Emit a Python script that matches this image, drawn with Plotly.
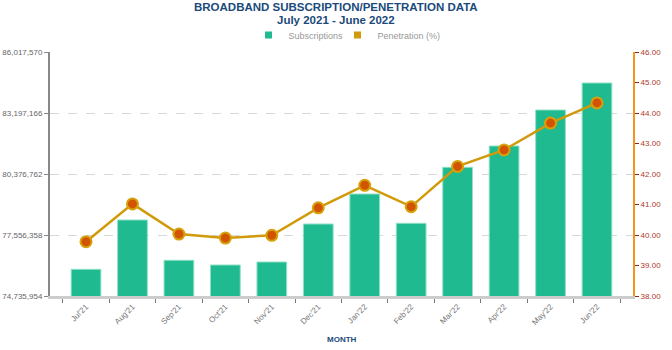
import plotly.graph_objects as go

months = ["Jul'21", "Aug'21", "Sep'21", "Oct'21", "Nov'21", "Dec'21",
          "Jan'22", "Feb'22", "Mar'22", "Apr'22", "May'22", "Jun'22"]
subscriptions = [75970000, 78250000, 76387000, 76169000, 76308000, 78065000,
                 79452000, 78097000, 80686000, 81671000, 83336000, 84584000]
penetration = [39.78, 41.02, 40.03, 39.90, 39.99, 40.89,
               41.63, 40.93, 42.25, 42.79, 43.67, 44.33]
left_ticks = [74735954, 77556358, 80376762, 83197166, 86017570]
right_ticks = [38, 39, 40, 41, 42, 43, 44, 45, 46]

FONT = "Liberation Sans, Arial, sans-serif"
TITLE_COLOR = "#1b4a7a"
BAR_COLOR = "#1fba8f"
LINE_COLOR = "#d09a0a"

L, R, T, B = 50, 39, 52, 54
PW = 672 - L - R
PH = 350 - T - B


def px(xp):
    return (xp - L) / PW


def py(yp):
    return (350 - B - yp) / PH


fig = go.Figure()
fig.add_trace(go.Bar(
    x=months, y=subscriptions, name="Subscriptions", showlegend=False,
    marker=dict(color=BAR_COLOR, line=dict(color="#8fe0c6", width=1)),
    width=0.64, yaxis="y",
))
fig.add_trace(go.Scatter(
    x=months, y=penetration, name="Penetration (%)", yaxis="y2", showlegend=False,
    mode="lines+markers",
    line=dict(color=LINE_COLOR, width=2.5),
    marker=dict(color="#d35400", size=11, line=dict(color="#d6a20c", width=2), symbol="circle"),
))
# legend-only entries (square swatches like the reference legend)
fig.add_trace(go.Scatter(x=[None], y=[None], name="Subscriptions", mode="markers",
                         marker=dict(symbol="square", color=BAR_COLOR, size=7)))
fig.add_trace(go.Scatter(x=[None], y=[None], name="Penetration (%)", mode="markers",
                         marker=dict(symbol="square", color=LINE_COLOR, size=7)))
fig.add_trace(go.Scatter(x=[None], y=[None], name=" ", mode="markers",
                         marker=dict(symbol="square", color="rgba(0,0,0,0)", size=1)))

fig.update_layout(
    width=672, height=350,
    margin=dict(l=L, r=R, t=T, b=B, autoexpand=False),
    plot_bgcolor="white", paper_bgcolor="white",
    font=dict(family=FONT, size=9, color="#666"),
    showlegend=True,
    legend=dict(orientation="h", x=px(248.5), xanchor="left", y=py(35), yanchor="middle",
                font=dict(size=9, color="#999"), entrywidth=44, traceorder="normal",
                itemclick=False, bgcolor="rgba(0,0,0,0)"),
    xaxis=dict(
        type="category", tickangle=-45, tickson="boundaries",
        ticks="outside", ticklen=4, tickcolor="#777",
        showline=True, linecolor="#cccccc", linewidth=3,
        tickfont=dict(size=8, color="#777"),
        showgrid=False, automargin=False,
    ),
    yaxis=dict(
        range=[left_ticks[0], left_ticks[-1]],
        tickvals=left_ticks, tickformat=",d",
        ticks="outside", ticklen=4, tickcolor="#888",
        showline=True, linecolor="#888", linewidth=2,
        showgrid=True, gridcolor="#d8d8d8", griddash="dash", gridwidth=1,
        zeroline=False, automargin=False,
        tickfont=dict(size=8, color="#666"),
    ),
    yaxis2=dict(
        range=[38, 46], overlaying="y", side="right",
        tickvals=right_ticks, tickformat=".2f",
        ticks="outside", ticklen=4, tickcolor="#8b2a1a",
        showline=True, linecolor="#f7941d", linewidth=2,
        showgrid=False, zeroline=False, automargin=False,
        tickfont=dict(size=8, color="#b0392b"),
    ),
    annotations=[
        dict(text="<b>BROADBAND SUBSCRIPTION/PENETRATION DATA</b>", xref="paper", yref="paper",
             x=px(336), y=py(7), xanchor="center", yanchor="middle",
             showarrow=False, font=dict(size=11.5, color=TITLE_COLOR, family=FONT)),
        dict(text="<b>July 2021 - June 2022</b>", xref="paper", yref="paper",
             x=px(336), y=py(20), xanchor="center", yanchor="middle",
             showarrow=False, font=dict(size=11.5, color=TITLE_COLOR, family=FONT)),
        dict(text="<b>MONTH</b>", xref="paper", yref="paper",
             x=px(342), y=py(339), xanchor="center", yanchor="middle",
             showarrow=False, font=dict(size=8, color=TITLE_COLOR, family=FONT)),
    ],
)

fig.write_html("out.html")
